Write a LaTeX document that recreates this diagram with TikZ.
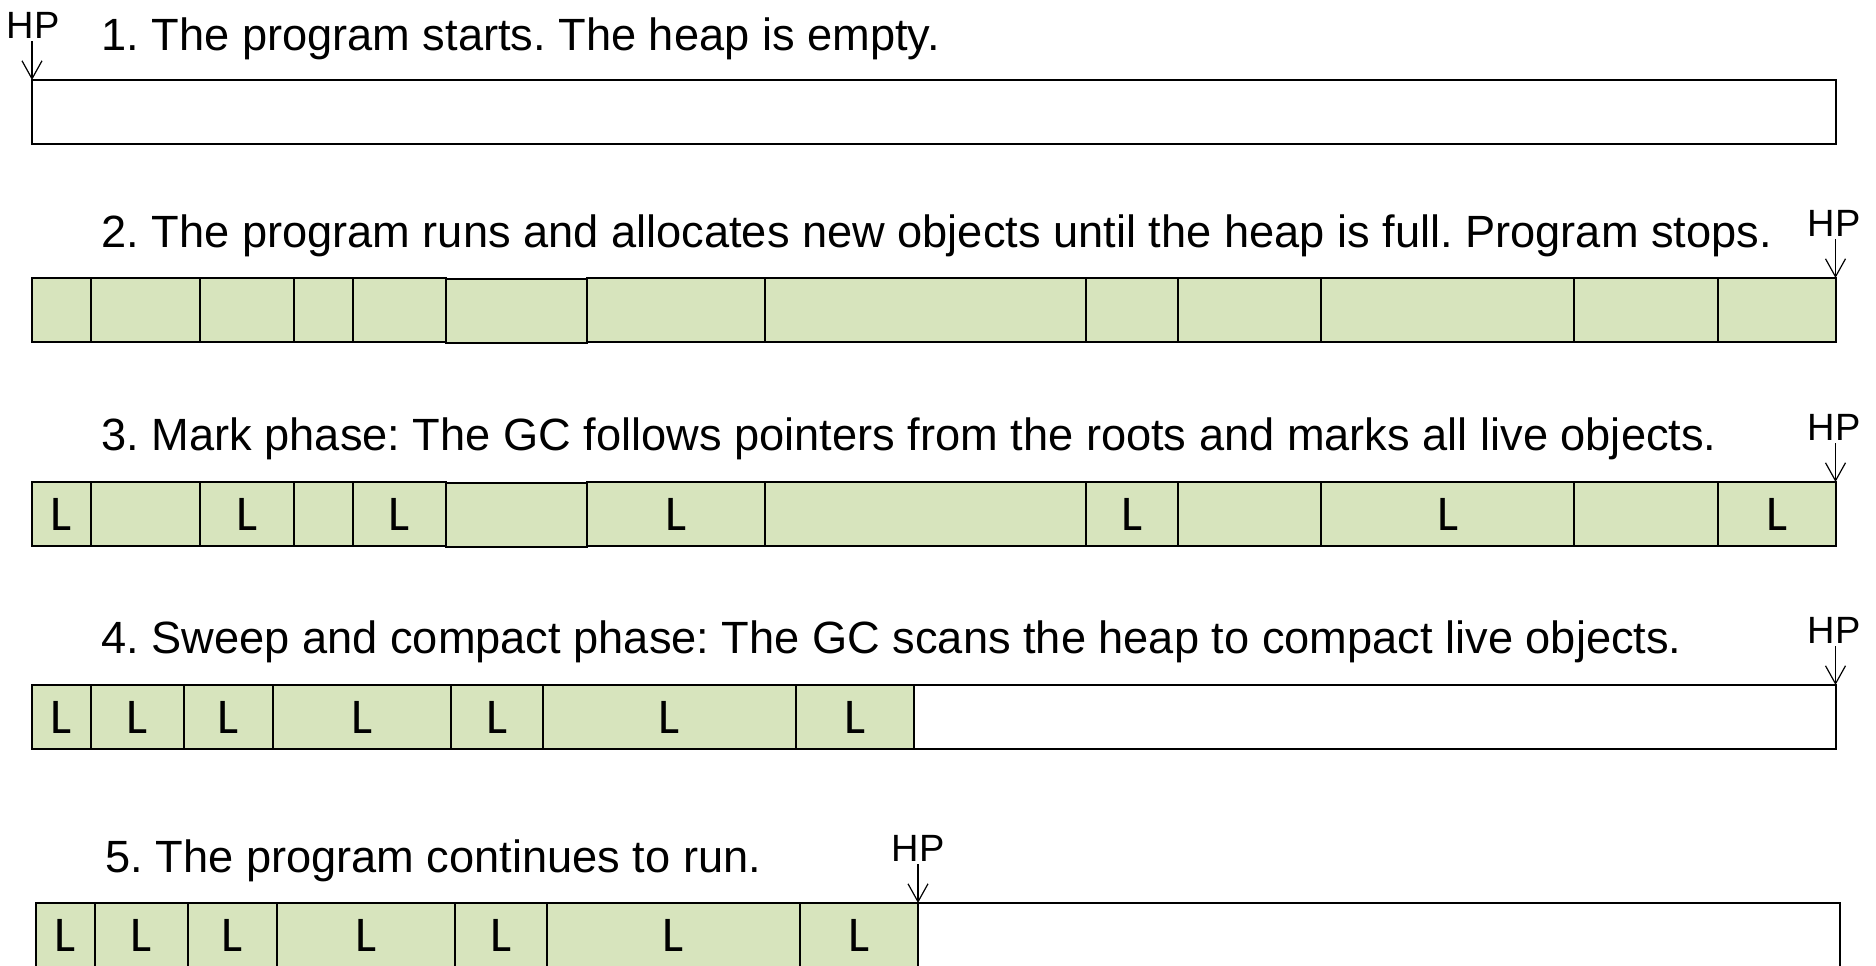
\documentclass[tikz,border=0pt]{standalone}
\usepackage{fontspec}
\setmainfont{Liberation Sans}
\newfontfamily\cellfont{Carlito}
\usetikzlibrary{arrows.meta}
\frenchspacing

\definecolor{heapgreen}{HTML}{D7E4BD}

\newcommand{\titlefont}{\fontsize{22.6}{26}\selectfont}
\newcommand{\hpfont}{\fontsize{19}{22}\selectfont}
\newcommand{\livefont}{\cellfont\fontsize{25}{30}\selectfont}

\tikzset{
  cell/.style={draw=black, line width=1pt, fill=heapgreen},
  freeheap/.style={draw=black, line width=1pt, fill=white},
  title/.style={anchor=base west, inner sep=0pt, font=\titlefont},
  live/.style={inner sep=0pt, font=\livefont},
  hplabel/.style={anchor=south, inner sep=0pt, outer sep=1.5pt, font=\hpfont},
  hparrow/.style={-{Straight Barb[length=9pt,width=10pt]}, line width=0.6pt},
}

\begin{document}
\begin{tikzpicture}[x=0.5pt, y=-0.5pt]
\useasboundingbox (0,0) rectangle (1876,965);
\clip (0,0) rectangle (1876,965);

% ---- 1. empty heap
\node[title] (t1) at (101,50) {1. The program starts. The heap is empty.};
\draw[freeheap] (31.6,80) rectangle (1835.5,144);
\node[hplabel] (hp1) at (33,41) {HP};
\coordinate (tip1) at (32,80);
\draw[hparrow] (hp1.south -| tip1) -- (tip1);

% ---- 2. full heap
\node[title] (t2) at (101,247) {2. The program runs and allocates new objects until the heap is full. Program stops.};
\foreach \a/\b/\d in {31.6/91/0, 91/200/0, 200/294/0, 294/353/0, 353/446/0, 446/587/1, 587/765/0, 765/1086/0, 1086/1178/0, 1178/1321/0, 1321/1574/0, 1574/1718/0, 1718/1835.5/0} {
  \draw[cell] (\a,278+\d) rectangle (\b,342+\d);
}
\node[hplabel] (hp2) at (1834,239) {HP};
\coordinate (tip2) at (1835.5,278);
\draw[hparrow] (hp2.south -| tip2) -- (tip2);

% ---- 3. mark phase
\node[title] (t3) at (101,450) {3. Mark phase: The GC follows pointers from the roots and marks all live objects.};
\foreach \a/\b/\m/\d [count=\i] in {31.6/91/1/0, 91/200/0/0, 200/294/1/0, 294/353/0/0, 353/446/1/0, 446/587/0/1, 587/765/1/0, 765/1086/0/0, 1086/1178/1/0, 1178/1321/0/0, 1321/1574/1/0, 1574/1718/0/0, 1718/1835.5/1/0} {
  \draw[cell] (\a,482+\d) rectangle (\b,546+\d);
  \ifnum\m=1 \node[live] (mark\i) at ({(\a+\b)/2},514) {L}; \fi
}
\node[hplabel] (hp3) at (1834,443) {HP};
\coordinate (tip3) at (1835.5,482);
\draw[hparrow] (hp3.south -| tip3) -- (tip3);

% ---- 4. sweep and compact
\node[title] (t4) at (101,653) {4. Sweep and compact phase: The GC scans the heap to compact live objects.};
\draw[freeheap] (914,685) rectangle (1835.5,749);
\foreach \a/\b [count=\i] in {31.6/91, 91/184, 184/273, 273/451, 451/543, 543/796, 796/914} {
  \draw[cell] (\a,685) rectangle (\b,749);
  \node[live] (comp\i) at ({(\a+\b)/2},717) {L};
}
\node[hplabel] (hp4) at (1834,646) {HP};
\coordinate (tip4) at (1835.5,685);
\draw[hparrow] (hp4.south -| tip4) -- (tip4);

% ---- 5. program resumes
\node[title] (t5) at (105,872) {5. The program continues to run.};
\draw[freeheap] (918,903) rectangle (1840,967);
\foreach \a/\b [count=\i] in {35.6/95, 95/188, 188/277, 277/455, 455/547, 547/800, 800/918} {
  \draw[cell] (\a,903) rectangle (\b,967);
  \node[live] (run\i) at ({(\a+\b)/2},935) {L};
}
\node[hplabel] (hp5) at (918,864) {HP};
\coordinate (tip5) at (918,903);
\draw[hparrow] (hp5.south -| tip5) -- (tip5);
\end{tikzpicture}
\end{document}
